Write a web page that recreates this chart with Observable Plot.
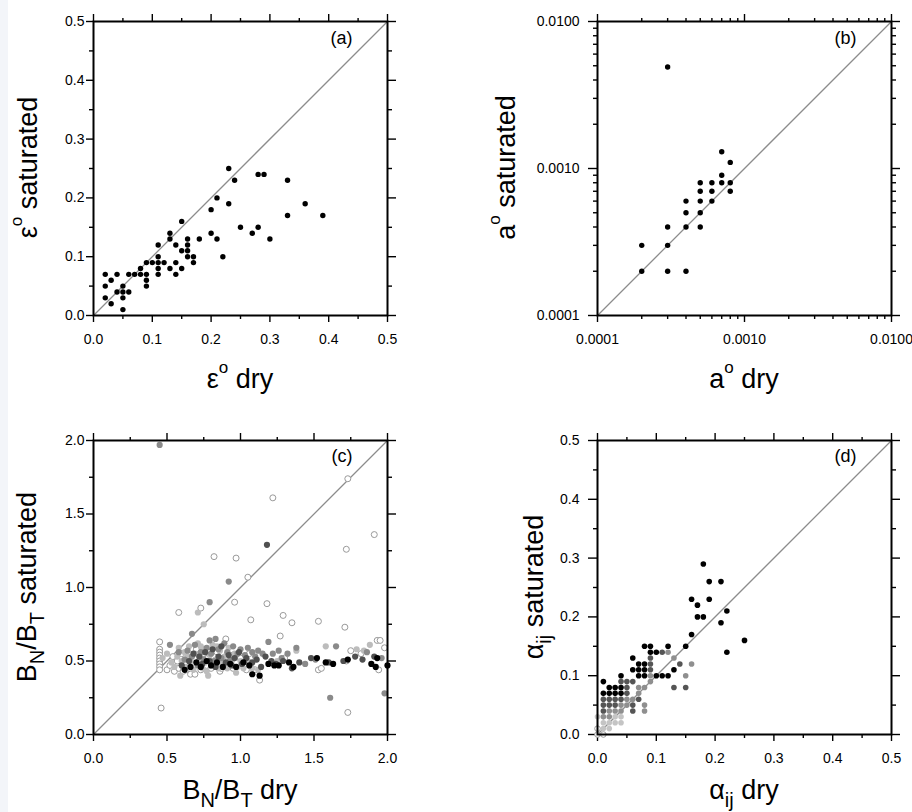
<!DOCTYPE html>
<html>
<head>
<meta charset="utf-8">
<script src="https://cdn.jsdelivr.net/npm/d3@7"></script>
<script src="https://cdn.jsdelivr.net/npm/@observablehq/plot@0.6"></script>
<style>
  html, body { margin: 0; padding: 0; background: #fff; }
  #wrap { position: relative; width: 912px; height: 812px; overflow: hidden; }
  #strip { position: absolute; left: 0; top: 0; width: 8px; height: 812px; background: #f3f5f9; }
</style>
</head>
<body>
<div id="wrap"><div id="strip"></div></div>
<script>
const FONT = '"Liberation Sans", Arial, Helvetica, sans-serif';

// ---------- Panel (a): eps0 ----------
const aDry = [0.02,0.02,0.02,0.03,0.03,0.04,0.04,0.05,0.05,0.05,0.05,0.06,0.06,0.07,0.08,0.08,0.09,0.09,0.09,0.09,0.10,0.11,0.11,0.11,0.11,0.11,0.12,0.13,0.13,0.13,0.14,0.14,0.14,0.15,0.15,0.15,0.16,0.16,0.16,0.16,0.17,0.17,0.18,0.20,0.20,0.21,0.21,0.22,0.23,0.23,0.24,0.25,0.27,0.28,0.28,0.29,0.30,0.33,0.33,0.36,0.39];
const aSat = [0.07,0.05,0.03,0.06,0.02,0.07,0.04,0.05,0.04,0.03,0.01,0.07,0.04,0.07,0.08,0.07,0.09,0.07,0.06,0.05,0.09,0.12,0.10,0.09,0.08,0.07,0.09,0.14,0.13,0.08,0.12,0.09,0.07,0.16,0.11,0.08,0.13,0.12,0.11,0.10,0.10,0.09,0.13,0.18,0.14,0.20,0.13,0.10,0.25,0.19,0.23,0.15,0.14,0.24,0.15,0.24,0.13,0.23,0.17,0.19,0.17];

// ---------- Panel (b): a0 (log) ----------
const bDry = [0.0002,0.0002,0.0003,0.0003,0.0003,0.0003,0.0004,0.0004,0.0004,0.0004,0.0005,0.0005,0.0005,0.0005,0.0005,0.0006,0.0006,0.0006,0.0007,0.0007,0.0007,0.0008,0.0008,0.0008];
const bSat = [0.0003,0.0002,0.0049,0.0004,0.0003,0.0002,0.0006,0.0005,0.0004,0.0002,0.0008,0.0007,0.0006,0.0005,0.0004,0.0008,0.0007,0.0006,0.0013,0.0009,0.0008,0.0011,0.0008,0.0007];

// ---------- Panel (c): BN/BT, five grey classes [dry, saturated] ----------
const cOpen = [[0.45,0.63],[0.45,0.58],[0.45,0.56],[0.45,0.54],[0.45,0.52],[0.45,0.50],[0.45,0.48],[0.45,0.46],[0.45,0.44],
  [0.50,0.44],[0.52,0.47],[0.55,0.43],[0.57,0.50],[0.58,0.45],[0.60,0.55],[0.62,0.48],[0.63,0.44],[0.65,0.52],[0.66,0.41],
  [0.68,0.47],[0.70,0.58],[0.72,0.50],[0.73,0.44],[0.75,0.55],[0.77,0.47],[0.78,0.52],[0.80,0.45],[0.82,0.49],[0.84,0.56],
  [0.86,0.43],[0.88,0.51],[0.90,0.47],[0.93,0.54],[0.95,0.45],[0.97,0.49],[1.00,0.52],[1.03,0.46],[1.06,0.55],[1.10,0.44],
  [1.13,0.37],[1.30,0.52],[1.53,0.44],[1.55,0.45],[1.72,0.50],[1.75,0.57],[1.82,0.55],[1.94,0.44],[1.98,0.59],[1.93,0.64],[1.95,0.64],
  [0.54,0.53],[0.61,0.43],[0.69,0.41],[0.87,0.45],[1.04,0.44],
  [1.73,1.74],[1.22,1.61],[1.72,1.26],[1.91,1.36],[0.82,1.21],[0.97,1.20],[1.05,1.07],[0.96,0.90],[1.18,0.89],[0.58,0.83],
  [0.73,0.86],[1.29,0.81],[1.07,0.78],[1.35,0.76],[1.53,0.77],[1.71,0.73],[1.27,0.67],[0.90,0.65],[0.46,0.18],[1.73,0.15]];
const cLight = [[0.47,0.52],[0.50,0.55],[0.53,0.49],[0.55,0.46],[0.57,0.53],[0.59,0.40],[0.60,0.50],[0.62,0.56],[0.63,0.46],
  [0.65,0.60],[0.66,0.50],[0.68,0.44],[0.69,0.55],[0.70,0.48],[0.71,0.62],[0.72,0.52],[0.74,0.45],[0.75,0.58],[0.76,0.49],
  [0.78,0.40],[0.79,0.54],[0.80,0.47],[0.81,0.61],[0.83,0.51],[0.85,0.45],[0.86,0.57],[0.88,0.48],[0.89,0.53],[0.91,0.45],
  [0.92,0.59],[0.94,0.50],[0.96,0.55],[0.98,0.46],[1.00,0.50],[1.02,0.45],[1.05,0.50],[1.08,0.45],[1.12,0.44],[1.25,0.50],
  [1.38,0.57],[1.58,0.60],[1.79,0.58],[1.84,0.57],[1.88,0.61],[0.75,0.75],[0.71,0.83],
  [0.58,0.59],[0.64,0.53],[0.73,0.60],[0.77,0.43],[0.84,0.60],[0.97,0.42]];
const cMid = [[0.52,0.61],[0.58,0.56],[0.62,0.51],[0.64,0.57],[0.67,0.53],[0.69,0.61],[0.71,0.47],[0.73,0.56],[0.75,0.51],
  [0.77,0.59],[0.79,0.64],[0.80,0.55],[0.82,0.50],[0.83,0.65],[0.85,0.58],[0.87,0.52],[0.89,0.62],[0.91,0.56],[0.93,0.51],
  [0.95,0.60],[0.98,0.55],[1.00,0.58],[1.03,0.54],[1.05,0.59],[1.08,0.56],[1.10,0.53],[1.12,0.57],[1.15,0.55],[1.19,0.63],
  [1.22,0.55],[1.26,0.57],[1.28,0.52],[1.32,0.55],[1.38,0.59],[1.44,0.48],[1.51,0.51],[1.65,0.60],[1.86,0.56],[1.96,0.52],
  [0.45,1.97],[0.92,1.04],[0.79,0.90],[0.67,0.685],[1.61,0.25],[1.98,0.28]];
const cDark = [[0.60,0.47],[0.65,0.50],[0.68,0.55],[0.72,0.53],[0.74,0.48],[0.76,0.56],[0.79,0.50],[0.81,0.58],[0.83,0.46],
  [0.85,0.53],[0.87,0.60],[0.90,0.49],[0.92,0.54],[0.94,0.47],[0.96,0.52],[0.99,0.56],[1.01,0.48],[1.04,0.52],[1.08,0.49],
  [1.11,0.51],[1.14,0.46],[1.17,0.53],[1.21,0.50],[1.24,0.48],[1.29,0.50],[1.35,0.45],[1.40,0.49],[1.48,0.52],[1.60,0.49],
  [1.70,0.50],[1.78,0.53],[1.83,0.51],[1.91,0.53],[1.18,1.29]];
const cBlack = [[0.62,0.44],[0.66,0.46],[0.70,0.49],[0.73,0.46],[0.77,0.50],[0.80,0.47],[0.84,0.49],[0.88,0.46],[0.93,0.48],
  [0.97,0.46],[1.02,0.49],[1.06,0.47],[1.08,0.41],[1.13,0.40],[1.19,0.48],[1.23,0.47],[1.26,0.47],[1.33,0.49],[1.36,0.46],
  [1.52,0.52],[1.58,0.49],[1.63,0.48],[1.73,0.51],[1.89,0.48],[1.92,0.46],[2.00,0.47],[1.93,0.52]];

// ---------- Panel (d): alpha_ij, grey classes [dry, saturated] ----------
const dOpen = [[0.00,0.00],[0.01,0.00],[0.00,0.01]];
const dLight = [[0.00,0.03],[0.01,0.02],[0.01,0.01],[0.02,0.02],[0.02,0.01],[0.03,0.02],[0.04,0.02],[0.04,0.03],[0.03,0.03]];
const dMid = [[0.01,0.03],[0.02,0.04],[0.02,0.03],[0.03,0.04],[0.04,0.05],[0.04,0.04],[0.05,0.06],[0.05,0.05],[0.06,0.06],
  [0.07,0.08],[0.07,0.07],[0.08,0.08],[0.08,0.05],[0.08,0.04],[0.09,0.09],[0.09,0.10],[0.12,0.14],[0.13,0.13],[0.16,0.12],[0.15,0.10]];
const dDark = [[0.01,0.06],[0.01,0.05],[0.01,0.04],[0.02,0.06],[0.02,0.05],[0.03,0.06],[0.03,0.05],[0.04,0.09],[0.04,0.06],
  [0.05,0.09],[0.05,0.08],[0.05,0.07],[0.06,0.09],[0.06,0.05],[0.06,0.04],[0.07,0.06],[0.09,0.13],[0.09,0.12],[0.09,0.11],
  [0.11,0.14],[0.13,0.08],[0.15,0.08],[0.14,0.12]];
const dBlack = [[0.01,0.09],[0.01,0.07],[0.02,0.08],[0.02,0.07],[0.03,0.08],[0.03,0.07],[0.04,0.10],[0.04,0.08],[0.04,0.07],
  [0.06,0.13],[0.06,0.11],[0.07,0.12],[0.07,0.11],[0.07,0.10],[0.08,0.15],[0.08,0.12],[0.08,0.11],[0.08,0.10],[0.09,0.15],
  [0.09,0.14],[0.10,0.14],[0.10,0.10],[0.11,0.10],[0.12,0.15],[0.12,0.10],[0.13,0.11],[0.15,0.15],[0.16,0.23],[0.16,0.17],
  [0.17,0.22],[0.17,0.20],[0.18,0.29],[0.18,0.20],[0.19,0.26],[0.19,0.23],[0.21,0.26],[0.21,0.19],[0.22,0.21],[0.22,0.14],[0.25,0.16]];

// ---------- ticks ----------
const ticks05 = [0, 0.1, 0.2, 0.3, 0.4, 0.5];
const minor05 = [0.05, 0.15, 0.25, 0.35, 0.45];
const ticks2 = [0, 0.5, 1.0, 1.5, 2.0];
const minor2 = [0.25, 0.75, 1.25, 1.75];
const ticksLog = [0.0001, 0.001, 0.01];
const minorLog = [0.0002,0.0003,0.0004,0.0005,0.0006,0.0007,0.0008,0.0009,0.002,0.003,0.004,0.005,0.006,0.007,0.008,0.009];

const W = 456, H = 406;
const wrap = document.getElementById("wrap");

function makePanel(cfg) {
  const blank = () => "";
  const sw = 1.4;
  const marks = [
    Plot.axisX({ticks: cfg.majors, tickSize: 7, tickPadding: 12, tickFormat: cfg.fmt, label: null, strokeWidth: sw}),
    Plot.axisX({ticks: cfg.minors, tickSize: 4, tickFormat: blank, label: null, strokeWidth: sw}),
    Plot.axisX({anchor: "top", ticks: cfg.majors, tickSize: 8, tickFormat: blank, label: null, strokeWidth: sw}),
    Plot.axisX({anchor: "top", ticks: cfg.minors, tickSize: 4, tickFormat: blank, label: null, strokeWidth: sw}),
    Plot.axisY({ticks: cfg.majors, tickSize: cfg.ytick, tickPadding: cfg.ypad, tickFormat: cfg.fmt, label: null, strokeWidth: sw}),
    Plot.axisY({ticks: cfg.minors, tickSize: 4, tickFormat: blank, label: null, strokeWidth: sw}),
    Plot.axisY({anchor: "right", ticks: cfg.majors, tickSize: 8, tickFormat: blank, label: null, strokeWidth: sw}),
    Plot.axisY({anchor: "right", ticks: cfg.minors, tickSize: 4, tickFormat: blank, label: null, strokeWidth: sw}),
    Plot.line(cfg.domain, {x: d => d, y: d => d, stroke: "#8c8c8c", strokeWidth: 1.3}),
    ...cfg.dots,
    Plot.frame({stroke: "#000", strokeWidth: 2}),
    Plot.text([cfg.tag], {text: d => d, frameAnchor: "top-right", dx: -35, dy: cfg.tagDy, fontSize: 18, fill: "#000"})
  ];
  const svg = Plot.plot({
    width: W, height: H,
    marginLeft: cfg.mL, marginRight: W - cfg.mL - 294, marginTop: cfg.mT, marginBottom: H - cfg.mT - 294,
    x: {type: cfg.type, domain: cfg.domain},
    y: {type: cfg.type, domain: cfg.domain},
    style: {fontFamily: FONT, fontSize: "14px", color: "#000", background: "transparent", overflow: "visible"},
    marks
  });
  svg.style.position = "absolute";
  svg.style.left = cfg.left + "px";
  svg.style.top = cfg.top + "px";
  svg.style.maxWidth = "none";
  wrap.appendChild(svg);
  addLabel(svg, cfg.xlab, cfg.xl[0], cfg.xl[1], false);
  addLabel(svg, cfg.ylab, cfg.yl[0], cfg.yl[1], true);
  return svg;
}

function addLabel(svg, parts, x, y, rot) {
  const t = d3.select(svg).append("text")
    .attr("font-family", FONT).attr("font-size", 27).attr("text-anchor", "middle").attr("fill", "#000")
    .attr("transform", rot ? `translate(${x},${y}) rotate(-90)` : `translate(${x},${y})`);
  let shift = 0;
  for (const [s, kind] of parts) {
    const target = kind === "sup" ? -15 : kind === "sub" ? 8 : 0;
    const size = kind === "sup" ? 17 : kind === "sub" ? 20 : 27;
    t.append("tspan").attr("font-size", size).attr("dy", target - shift).text(s);
    shift = target;
  }
}

const dotsFrom = (pairs, fill, r, stroke) => Plot.dot(pairs, {
  x: d => d[0], y: d => d[1], r, fill, stroke: stroke || "none", strokeWidth: stroke ? 1 : 0
});

const f1 = d3.format(".1f");
const f4 = d3.format(".4f");

makePanel({
  left: 0, top: 0, mL: 93, mT: 21, type: "linear", domain: [0, 0.5],
  majors: ticks05, minors: minor05, fmt: f1, ytick: 7, ypad: 2, tag: "(a)", tagDy: 10,
  dots: [Plot.dot(aDry.map((d, i) => [d, aSat[i]]), {x: d => d[0], y: d => d[1], r: 2.7, fill: "#000"})],
  xlab: [["ε", ""], ["o", "sup"], [" dry", ""]], xl: [240, 388],
  ylab: [["ε", ""], ["o", "sup"], [" saturated", ""]], yl: [37, 167.5]
});

makePanel({
  left: 456, top: 0, mL: 141, mT: 21, type: "log", domain: [0.0001, 0.01],
  majors: ticksLog, minors: minorLog, fmt: f4, ytick: 9, ypad: 9, tag: "(b)", tagDy: 10,
  dots: [Plot.dot(bDry.map((d, i) => [d, bSat[i]]), {x: d => d[0], y: d => d[1], r: 2.7, fill: "#000"})],
  xlab: [["a", ""], ["o", "sup"], [" dry", ""]], xl: [288, 388],
  ylab: [["a", ""], ["o", "sup"], [" saturated", ""]], yl: [59, 167.5]
});

makePanel({
  left: 0, top: 406, mL: 93, mT: 34, type: "linear", domain: [0, 2],
  majors: ticks2, minors: minor2, fmt: f1, ytick: 7, ypad: 2, tag: "(c)", tagDy: 9,
  dots: [
    dotsFrom(cOpen, "#fff", 3, "#9a9a9a"),
    dotsFrom(cLight, "#bcbcbc", 3.1),
    dotsFrom(cMid, "#8a8a8a", 3.1),
    dotsFrom(cDark, "#505050", 3.1),
    dotsFrom(cBlack, "#000", 3.1)
  ],
  xlab: [["B", ""], ["N", "sub"], ["/B", ""], ["T", "sub"], [" dry", ""]], xl: [240, 393],
  ylab: [["B", ""], ["N", "sub"], ["/B", ""], ["T", "sub"], [" saturated", ""]], yl: [36, 181]
});

makePanel({
  left: 456, top: 406, mL: 141, mT: 34, type: "linear", domain: [0, 0.5],
  majors: ticks05, minors: minor05, fmt: f1, ytick: 9, ypad: 9, tag: "(d)", tagDy: 9,
  dots: [
    dotsFrom(dOpen, "#fff", 2.8, "#9a9a9a"),
    dotsFrom(dLight, "#c4c4c4", 2.8),
    dotsFrom(dMid, "#8f8f8f", 2.8),
    dotsFrom(dDark, "#555", 2.8),
    dotsFrom(dBlack, "#000", 2.8)
  ],
  xlab: [["α", ""], ["ij", "sub"], [" dry", ""]], xl: [288, 393],
  ylab: [["α", ""], ["ij", "sub"], [" saturated", ""]], yl: [87, 181]
});
</script>
</body>
</html>
